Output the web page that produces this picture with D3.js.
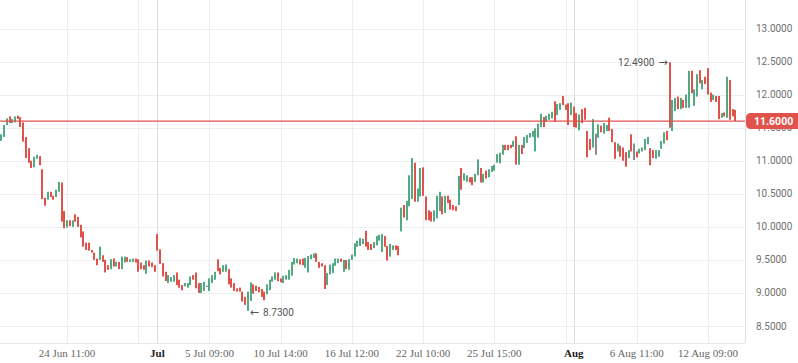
<!DOCTYPE html>
<html><head><meta charset="utf-8">
<script src="https://cdn.jsdelivr.net/npm/d3@7/dist/d3.min.js"></script>
<style>html,body{margin:0;padding:0;background:#fff;}svg{display:block;}</style>
</head><body>
<script>
// ---- DATA ----
const open = [11.30,11.36,11.54,11.67,11.57,11.58,11.68,11.66,11.58,11.36,
11.19,11.00,10.90,11.03,11.07,10.87,10.44,10.41,10.53,10.47,
10.45,10.53,10.67,10.24,9.99,10.10,10.00,10.19,10.15,10.03,
9.93,9.76,9.76,9.65,9.61,9.52,9.50,9.57,9.50,9.42,
9.36,9.52,9.40,9.47,9.36,9.46,9.54,9.47,9.47,9.52,
9.51,9.46,9.42,9.29,9.49,9.46,9.42,9.89,9.66,9.45,
9.32,9.15,9.17,9.17,9.31,9.20,9.12,9.10,9.08,9.12,
9.27,9.31,9.15,9.00,9.03,9.09,9.03,9.15,9.20,9.51,
9.38,9.32,9.32,9.36,9.22,9.15,9.07,9.08,9.02,8.94,
8.73,8.88,9.13,9.11,9.09,9.06,9.02,8.98,9.04,9.17,
9.20,9.31,9.22,9.15,9.20,9.20,9.26,9.43,9.45,9.51,
9.52,9.38,9.31,9.51,9.53,9.60,9.47,9.45,9.42,9.12,
9.28,9.30,9.41,9.45,9.52,9.32,9.50,9.35,9.50,9.55,
9.70,9.71,9.74,9.94,9.77,9.74,9.68,9.72,9.79,9.62,
9.86,9.71,9.55,9.65,9.72,9.71,9.93,10.33,10.10,10.31,
10.42,10.97,10.38,10.46,10.90,10.46,10.25,10.23,10.08,10.13,
10.24,10.46,10.21,10.47,10.41,10.33,10.31,10.33,10.89,10.70,
10.68,10.75,10.75,10.68,10.78,10.89,10.67,10.85,10.75,10.83,
10.85,10.97,10.96,11.09,11.24,11.24,11.24,11.21,11.37,10.94,
11.24,11.19,11.27,11.35,11.36,11.14,11.35,11.51,11.66,11.59,
11.62,11.64,11.90,11.69,11.77,11.98,11.85,11.87,11.69,11.82,
11.72,11.46,11.78,11.80,11.45,11.33,11.20,11.25,11.35,11.53,
11.41,11.45,11.65,11.48,11.28,11.14,11.23,11.20,11.13,11.04,
11.40,11.13,11.14,11.11,11.14,11.16,11.25,11.19,11.16,11.03,
11.06,11.18,11.26,11.45,12.49,11.45,11.75,11.97,11.78,11.92,
11.80,11.80,12.36,11.83,11.97,12.37,12.08,12.27,12.40,12.03,
11.92,11.98,11.98,11.65,11.73,11.65,12.22,11.78,11.77];
const close = [11.40,11.54,11.64,11.57,11.63,11.67,11.63,11.51,11.29,11.04,
10.97,10.89,11.06,11.09,10.93,10.42,10.32,10.53,10.45,10.41,
10.56,10.68,10.08,9.98,10.10,10.01,10.10,10.08,10.00,9.84,
9.70,9.65,9.64,9.61,9.50,9.42,9.70,9.47,9.31,9.35,
9.51,9.40,9.47,9.36,9.55,9.55,9.47,9.51,9.52,9.46,
9.32,9.36,9.35,9.49,9.40,9.39,9.32,9.64,9.44,9.25,
9.18,9.27,9.24,9.27,9.12,9.08,9.04,9.15,9.15,9.25,
9.20,9.07,9.00,9.15,9.17,9.11,9.22,9.27,9.32,9.33,
9.28,9.42,9.43,9.13,9.08,9.03,9.02,9.02,8.87,8.82,
9.02,9.16,8.99,9.03,9.01,8.94,8.89,9.13,9.20,9.25,
9.31,9.18,9.16,9.26,9.27,9.35,9.47,9.53,9.52,9.43,
9.42,9.53,9.56,9.58,9.60,9.47,9.38,9.40,9.06,9.30,
9.43,9.45,9.52,9.52,9.47,9.50,9.36,9.51,9.58,9.75,
9.79,9.83,9.82,9.70,9.65,9.65,9.77,9.86,9.88,9.89,
9.70,9.49,9.74,9.72,9.65,9.57,10.29,10.14,10.39,10.78,
11.04,10.38,10.58,10.89,10.47,10.10,10.10,10.08,10.25,10.47,
10.53,10.19,10.47,10.36,10.26,10.25,10.24,10.77,10.56,10.81,
10.78,10.67,10.63,10.80,11.02,10.67,10.80,10.73,10.87,10.92,
10.94,11.10,11.12,11.24,11.16,11.16,11.19,11.30,10.94,11.24,
11.10,11.36,11.39,11.42,11.45,11.49,11.56,11.71,11.51,11.68,
11.71,11.74,11.59,11.86,11.87,11.84,11.77,11.54,11.88,11.51,
11.50,11.70,11.57,11.62,11.05,11.16,11.63,11.25,11.55,11.43,
11.57,11.54,11.45,11.28,11.03,11.26,11.06,11.00,10.91,11.16,
11.14,11.13,11.05,11.18,11.20,11.33,11.36,10.93,11.04,11.16,
11.16,11.30,11.43,11.31,11.50,11.92,11.95,11.78,11.95,11.80,
12.00,12.36,12.02,12.08,12.31,12.17,12.22,12.16,12.00,11.89,
12.00,11.89,11.63,11.72,11.67,12.27,11.62,11.67,11.60];
const high = [11.40,11.54,11.64,11.67,11.63,11.67,11.68,11.66,11.58,11.36,
11.19,11.00,11.06,11.09,11.07,10.87,10.44,10.53,10.53,10.47,
10.56,10.68,10.67,10.24,10.10,10.10,10.10,10.19,10.15,10.03,
9.93,9.76,9.76,9.65,9.61,9.52,9.70,9.57,9.50,9.42,
9.51,9.52,9.47,9.47,9.55,9.55,9.54,9.51,9.52,9.52,
9.51,9.46,9.42,9.49,9.49,9.46,9.42,9.89,9.66,9.45,
9.32,9.27,9.24,9.27,9.31,9.20,9.12,9.15,9.15,9.25,
9.27,9.31,9.15,9.15,9.17,9.11,9.22,9.27,9.32,9.51,
9.38,9.42,9.43,9.36,9.22,9.15,9.07,9.08,9.02,8.94,
9.02,9.16,9.13,9.11,9.09,9.06,9.02,9.13,9.20,9.25,
9.31,9.31,9.22,9.26,9.27,9.35,9.47,9.53,9.52,9.51,
9.52,9.53,9.56,9.58,9.60,9.60,9.47,9.45,9.42,9.30,
9.43,9.45,9.52,9.52,9.52,9.50,9.50,9.51,9.58,9.75,
9.79,9.83,9.82,9.94,9.77,9.74,9.77,9.86,9.88,9.89,
9.86,9.71,9.74,9.72,9.72,9.71,10.29,10.33,10.39,10.78,
11.04,10.97,10.58,10.89,10.90,10.46,10.25,10.23,10.25,10.47,
10.53,10.46,10.47,10.47,10.41,10.33,10.31,10.77,10.89,10.81,
10.78,10.75,10.75,10.80,11.02,10.89,10.80,10.85,10.87,10.92,
10.94,11.10,11.12,11.24,11.24,11.24,11.24,11.30,11.37,11.24,
11.24,11.36,11.39,11.42,11.45,11.49,11.56,11.71,11.66,11.68,
11.71,11.74,11.90,11.86,11.87,11.98,11.85,11.87,11.88,11.82,
11.72,11.70,11.78,11.80,11.45,11.33,11.63,11.41,11.55,11.53,
11.57,11.54,11.65,11.48,11.28,11.26,11.23,11.20,11.13,11.16,
11.40,11.26,11.14,11.18,11.20,11.33,11.36,11.19,11.16,11.16,
11.16,11.30,11.43,11.45,12.49,11.92,11.95,11.97,11.95,11.92,
12.00,12.36,12.36,12.08,12.31,12.37,12.22,12.27,12.40,12.03,
12.00,11.98,11.98,11.72,11.73,12.27,12.22,11.78,11.77];
const low = [11.30,11.36,11.54,11.57,11.57,11.58,11.63,11.51,11.29,11.04,
10.97,10.89,10.90,11.03,10.93,10.42,10.32,10.41,10.45,10.41,
10.45,10.53,10.08,9.98,9.99,10.01,10.00,10.08,10.00,9.84,
9.70,9.65,9.64,9.61,9.50,9.42,9.50,9.47,9.31,9.35,
9.36,9.40,9.40,9.36,9.36,9.46,9.47,9.47,9.47,9.46,
9.32,9.36,9.35,9.29,9.40,9.39,9.32,9.64,9.44,9.25,
9.18,9.15,9.17,9.17,9.12,9.08,9.04,9.10,9.08,9.12,
9.20,9.07,9.00,9.00,9.03,9.09,9.03,9.15,9.20,9.33,
9.28,9.32,9.32,9.13,9.08,9.03,9.02,9.02,8.87,8.82,
8.73,8.88,8.99,9.03,9.01,8.94,8.89,8.98,9.04,9.17,
9.20,9.18,9.16,9.15,9.20,9.20,9.26,9.43,9.45,9.43,
9.42,9.38,9.31,9.51,9.53,9.47,9.38,9.40,9.06,9.12,
9.28,9.30,9.41,9.45,9.47,9.32,9.36,9.35,9.50,9.55,
9.70,9.71,9.74,9.70,9.65,9.65,9.68,9.72,9.79,9.62,
9.70,9.49,9.55,9.65,9.65,9.57,9.93,10.14,10.10,10.31,
10.42,10.38,10.38,10.46,10.47,10.10,10.10,10.08,10.08,10.13,
10.24,10.19,10.21,10.36,10.26,10.25,10.24,10.33,10.56,10.70,
10.68,10.67,10.63,10.68,10.78,10.67,10.67,10.73,10.75,10.83,
10.85,10.97,10.96,11.09,11.16,11.16,11.19,11.21,10.94,10.94,
11.10,11.19,11.27,11.35,11.36,11.14,11.35,11.51,11.51,11.59,
11.62,11.64,11.59,11.69,11.77,11.84,11.77,11.54,11.69,11.51,
11.50,11.46,11.57,11.62,11.05,11.16,11.20,11.09,11.35,11.43,
11.41,11.45,11.45,11.28,11.03,11.14,11.06,11.00,10.91,11.04,
11.14,11.01,11.05,11.11,11.14,11.16,11.25,10.93,11.04,11.03,
11.06,11.18,11.26,11.31,11.50,11.45,11.75,11.78,11.78,11.80,
11.80,11.80,12.02,11.83,11.97,12.17,12.08,12.16,12.00,11.89,
11.92,11.89,11.63,11.65,11.67,11.65,11.62,11.67,11.60];

const yTicks = [8.5, 9.0, 9.5, 10.0, 10.5, 11.0, 11.5, 12.0, 12.5, 13.0];
const xTickIndex = [24, 50, 57, 76, 102, 128, 154, 180, 206, 209, 232, 258];
const xTickLabels = ["24 Jun 11:00", "", "Jul", "5 Jul 09:00", "10 Jul 14:00", "16 Jul 12:00",
  "22 Jul 10:00", "25 Jul 15:00", "", "Aug", "6 Aug 11:00", "12 Aug 09:00"];
const monthTicks = ["Jul", "Aug"];
const lastPrice = 11.60;

// ---- CHART ----
const W = 798, H = 363;
const plotRight = 745, plotBottom = 343;
const n = open.length;
const svg = d3.select("body").append("svg").attr("width", W).attr("height", H);

const x = d3.scaleLinear().domain([0, n - 1]).range([1.3, 1.3 + (n - 1) * 2.739]);
const y = d3.scaleLinear().domain([8.5, 13.0]).range([326, 28.5]);

const colUp = "#53a984", colDown = "#e0524c", colFlat = "#8a8a8a";
const sansFont = "Roboto, 'Liberation Sans', Arial, sans-serif";

// horizontal grid
svg.append("g").selectAll("line").data(yTicks).join("line")
  .attr("x1", 0).attr("x2", plotRight)
  .attr("y1", d => Math.round(y(d)) + 0.5).attr("y2", d => Math.round(y(d)) + 0.5)
  .attr("stroke", "#eceef1").attr("stroke-width", 1);

// vertical grid
svg.append("g").selectAll("line").data(xTickIndex).join("line")
  .attr("x1", d => Math.round(x(d)) + 0.5).attr("x2", d => Math.round(x(d)) + 0.5)
  .attr("y1", 0).attr("y2", plotBottom)
  .attr("stroke", (d, i) => monthTicks.includes(xTickLabels[i]) ? "#dadde2" : "#eceef1")
  .attr("stroke-width", 1);

// axis borders
svg.append("line").attr("x1", plotRight + 0.5).attr("x2", plotRight + 0.5)
  .attr("y1", 0).attr("y2", plotBottom).attr("stroke", "#dcdfe3");
svg.append("line").attr("x1", 0).attr("x2", plotRight)
  .attr("y1", plotBottom + 0.5).attr("y2", plotBottom + 0.5).attr("stroke", "#e6e8eb");

// x labels
svg.append("g").selectAll("text").data(xTickIndex).join("text")
  .attr("x", d => x(d)).attr("y", 357)
  .attr("text-anchor", "middle")
  .attr("font-family", "'Liberation Serif', 'Times New Roman', serif")
  .attr("font-size", 11)
  .attr("font-weight", (d, i) => monthTicks.includes(xTickLabels[i]) ? "bold" : "normal")
  .attr("fill", (d, i) => monthTicks.includes(xTickLabels[i]) ? "#222" : "#666")
  .text((d, i) => xTickLabels[i]);

// y labels
svg.append("g").selectAll("text").data(yTicks).join("text")
  .attr("x", 756).attr("y", d => y(d) + 3.5)
  .attr("font-family", sansFont).attr("font-size", 10)
  .attr("fill", "#707070")
  .text(d => d.toFixed(4));

// candles
const candles = d3.range(n);
svg.append("g").selectAll("rect").data(candles).join("rect")
  .attr("x", i => Math.round(x(i) - 1))
  .attr("width", 2)
  .attr("y", i => y(high[i]))
  .attr("height", i => Math.max(1, y(low[i]) - y(high[i])))
  .attr("fill", i => close[i] > open[i] ? colUp : (close[i] < open[i] ? colDown : colFlat));

// last price line
svg.append("line").attr("x1", 0).attr("x2", plotRight)
  .attr("y1", y(lastPrice)).attr("y2", y(lastPrice))
  .attr("stroke", "#e0524c").attr("stroke-width", 1.3);

// last price badge
const by = y(lastPrice);
const bx0 = 746, bh = 16, r = 5;
svg.append("path")
  .attr("d", `M${bx0 + r},${by - bh / 2} L${W},${by - bh / 2} L${W},${by + bh / 2} L${bx0 + r},${by + bh / 2} Q${bx0},${by + bh / 2} ${bx0},${by + bh / 2 - r} L${bx0},${by - bh / 2 + r} Q${bx0},${by - bh / 2} ${bx0 + r},${by - bh / 2} Z`)
  .attr("fill", "#e0524c");
svg.append("text").attr("x", 754).attr("y", by + 4)
  .attr("font-family", sansFont).attr("font-size", 10.5).attr("font-weight", "bold")
  .attr("fill", "#fff").text(lastPrice.toFixed(4));

// max / min annotations
const iMax = d3.maxIndex(high), iMin = d3.minIndex(low);
const tMax = svg.append("text").attr("x", x(iMax) - 2).attr("y", y(high[iMax]) + 3.5)
  .attr("text-anchor", "end").attr("font-family", sansFont).attr("font-size", 10)
  .attr("fill", "#555");
tMax.append("tspan").text(high[iMax].toFixed(4));
tMax.append("tspan").attr("dx", 4).attr("font-family", "'DejaVu Sans', sans-serif").attr("font-size", 11).text("\u2192");
const tMin = svg.append("text").attr("x", x(iMin) + 2).attr("y", y(low[iMin]) + 5)
  .attr("font-family", sansFont).attr("font-size", 10)
  .attr("fill", "#555");
tMin.append("tspan").attr("font-family", "'DejaVu Sans', sans-serif").attr("font-size", 11).text("\u2190");
tMin.append("tspan").attr("dx", 4).text(low[iMin].toFixed(4));
</script>
</body></html>
